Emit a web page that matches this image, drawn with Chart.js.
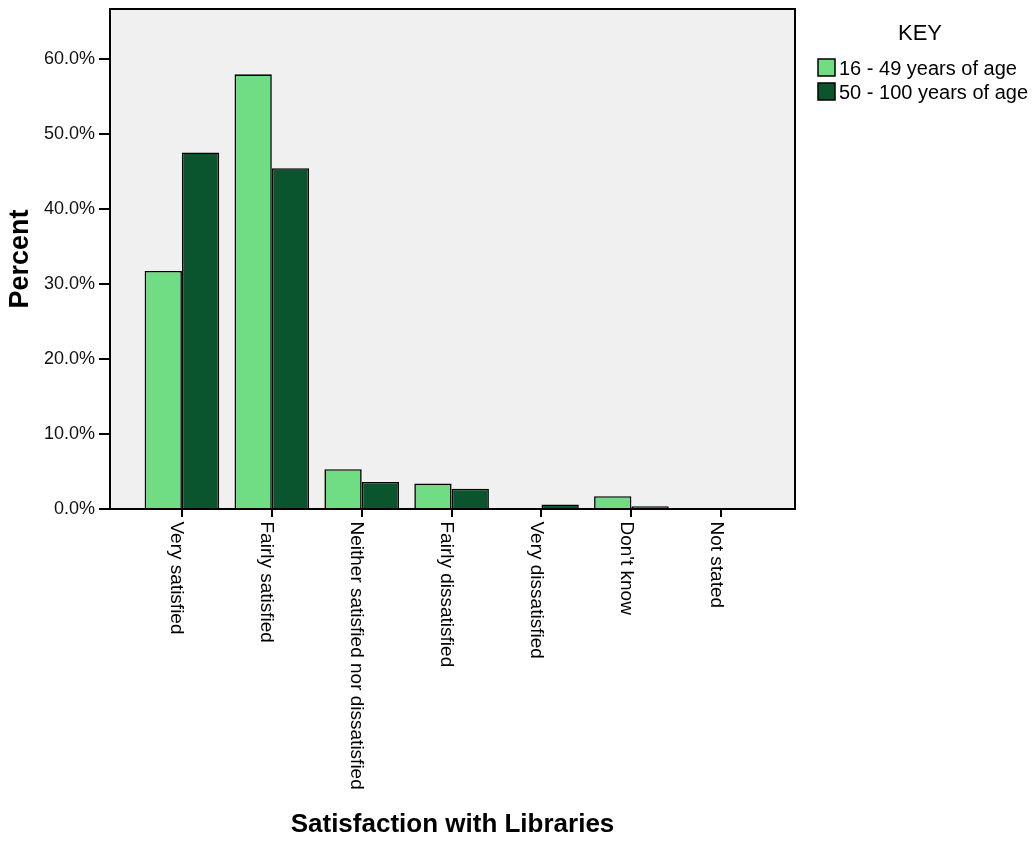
<!DOCTYPE html>
<html>
<head>
<meta charset="utf-8">
<script src="https://cdn.jsdelivr.net/npm/chart.js@4.4.1/dist/chart.umd.min.js"></script>
<style>
html,body{margin:0;padding:0;background:#fff;}
canvas{display:block;}
</style>
</head>
<body>
<canvas id="c" width="1033" height="844"></canvas>
<script>
// ---- data ----
const categories = ['Very satisfied', 'Fairly satisfied', 'Neither satisfied nor dissatisfied', 'Fairly dissatisfied', 'Very dissatisfied', "Don't know", 'Not stated'];
const seriesLabels = ['16 - 49 years of age', '50 - 100 years of age'];
const youngerValues = [31.7, 57.9, 5.3, 3.4, null, 1.7, null];
const olderValues = [47.5, 45.4, 3.6, 2.7, 0.6, 0.35, null];
const yTickValues = [0, 10, 20, 30, 40, 50, 60];
const xTitle = 'Satisfaction with Libraries';
const yTitle = 'Percent';
const legendTitle = 'KEY';

const colors = ['#70dd85', '#0b552e'];
const FONT = '"Liberation Sans", Arial, sans-serif';

function toPoints(vals) { return vals.map((v, i) => ({ x: i + 1, y: v })); }

const decor = {
  id: 'decor',
  beforeDatasetsDraw(chart) {
    const { ctx, chartArea: a } = chart;
    ctx.save();
    ctx.fillStyle = '#f0f0f0';
    ctx.fillRect(a.left, a.top, a.right - a.left, a.bottom - a.top);
    ctx.restore();
  },
  afterDatasetsDraw(chart) {
    const { ctx, chartArea: a } = chart;
    ctx.save();
    ctx.strokeStyle = '#000';
    ctx.lineWidth = 2;
    ctx.strokeRect(a.left, a.top, a.right - a.left, a.bottom - a.top);
    ctx.restore();
  },
  afterDraw(chart) {
    const { ctx, chartArea: a } = chart;
    const xs = chart.scales.x;
    ctx.save();
    ctx.fillStyle = '#000';
    // x category labels (rotated clockwise)
    ctx.font = '19px ' + FONT;
    ctx.textAlign = 'left';
    ctx.textBaseline = 'alphabetic';
    categories.forEach((c, i) => {
      const x = xs.getPixelForValue(i + 1);
      ctx.save();
      ctx.translate(x, a.bottom + 12.5);
      ctx.rotate(Math.PI / 2);
      ctx.fillText(c, 0, 10.5);
      ctx.restore();
    });
    // x title
    ctx.font = 'bold 26px ' + FONT;
    ctx.textAlign = 'center';
    ctx.textBaseline = 'middle';
    ctx.fillText(xTitle, (a.left + a.right) / 2, 825);
    // y title
    ctx.save();
    ctx.translate(21, (a.top + a.bottom) / 2);
    ctx.rotate(-Math.PI / 2);
    ctx.font = 'bold 27px ' + FONT;
    ctx.fillText(yTitle, 0, 0);
    ctx.restore();
    // legend
    ctx.font = '22px ' + FONT;
    ctx.textAlign = 'center';
    ctx.fillText(legendTitle, 920, 34);
    ctx.font = '20px ' + FONT;
    ctx.textAlign = 'left';
    chart.data.datasets.forEach((ds, i) => {
      const y = 59 + i * 24;
      ctx.fillStyle = ds.backgroundColor;
      ctx.fillRect(818, y, 17, 17);
      ctx.strokeStyle = '#000';
      ctx.lineWidth = 1.5;
      ctx.strokeRect(818, y, 17, 17);
      ctx.fillStyle = '#000';
      ctx.textBaseline = 'middle';
      ctx.fillText(ds.label, 839, y + 10);
    });
    ctx.restore();
  }
};

new Chart(document.getElementById('c'), {
  type: 'bar',
  data: {
    datasets: [
      { label: seriesLabels[0], data: toPoints(youngerValues), backgroundColor: colors[0], borderColor: '#000', borderWidth: 1.6 },
      { label: seriesLabels[1], data: toPoints(olderValues), backgroundColor: colors[1], borderColor: '#000', borderWidth: 1.6 }
    ]
  },
  options: {
    responsive: false,
    animation: false,
    devicePixelRatio: 1,
    layout: { padding: { left: 0, top: 9, right: 238, bottom: 0 } },
    datasets: { bar: { categoryPercentage: 0.83, barPercentage: 1.0 } },
    plugins: { legend: { display: false }, tooltip: { enabled: false } },
    scales: {
      x: {
        type: 'linear',
        offset: false,
        min: 0.2,
        max: 7.82,
        afterBuildTicks(scale) { scale.ticks = categories.map((c, i) => ({ value: i + 1 })); },
        afterFit(scale) { scale.height = 335; scale.paddingLeft = 0; scale.paddingRight = 0; },
        ticks: { display: false },
        grid: { display: true, offset: false, drawOnChartArea: false, drawTicks: true, tickLength: 8, color: '#000', lineWidth: 2 },
        border: { display: false }
      },
      y: {
        type: 'linear',
        min: 0,
        max: 66.6,
        afterBuildTicks(scale) { scale.ticks = yTickValues.map(v => ({ value: v })); },
        afterFit(scale) { scale.width = 110; scale.paddingTop = 0; scale.paddingBottom = 0; },
        ticks: {
          callback: v => v.toFixed(1) + '%',
          color: '#111',
          font: { family: FONT, size: 18 },
          padding: 4
        },
        grid: { display: true, drawOnChartArea: false, drawTicks: true, tickLength: 11, color: '#000', lineWidth: 2 },
        border: { display: false }
      }
    }
  },
  plugins: [decor]
});
</script>
</body>
</html>
